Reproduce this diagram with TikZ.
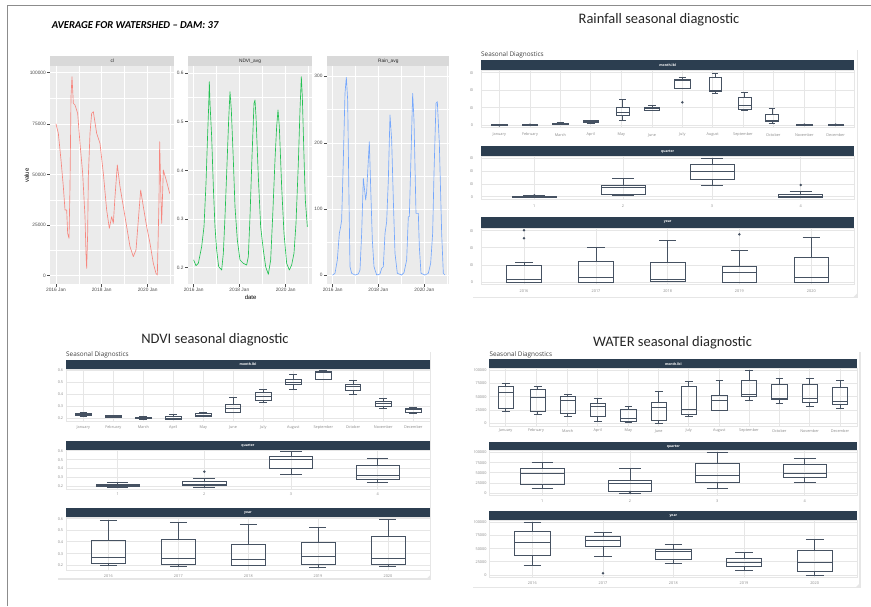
\documentclass[tikz,border=0pt]{standalone}
\usepackage{fontspec}
\setmainfont{Carlito}
\newfontfamily\osans{Open Sans}
\newfontfamily\lsans{Liberation Sans}
\definecolor{ggpanel}{HTML}{EBEBEB}
\definecolor{ggstrip}{HTML}{D9D9D9}
\definecolor{ggtext}{HTML}{4D4D4D}
\definecolor{ggred}{HTML}{F8766D}
\definecolor{gggreen}{HTML}{00BA38}
\definecolor{ggblue}{HTML}{619CFF}
\definecolor{navy}{HTML}{2C3E50}
\definecolor{boxc}{HTML}{465262}
\definecolor{pgridc}{HTML}{E6E6E6}
\definecolor{ptext}{HTML}{8A8A8A}
\definecolor{frmc}{HTML}{8C8C8C}
\tikzset{
  frm/.style={draw=frmc, line width=1.3pt},
  ggpan/.style={fill=ggpanel},
  ggstr/.style={fill=ggstrip},
  ggmaj/.style={draw=white, line width=0.7pt},
  ggmin/.style={draw=white, line width=0.35pt},
  ggtickline/.style={draw=ggtext, line width=0.4pt},
  ggtick/.style={font=\lsans\fontsize{4.8}{5}\selectfont, text=ggtext, inner sep=0pt},
  ggstriptxt/.style={font=\lsans\fontsize{4.8}{5}\selectfont, text=black!85, inner sep=0pt},
  ggaxis/.style={font=\lsans\fontsize{6}{6}\selectfont, text=black, inner sep=0pt},
  dataline/.style={line width=0.65pt, line join=round, line cap=round, draw opacity=0.85},
  pstrip/.style={fill=navy},
  pframe/.style={draw=pgridc, line width=0.6pt, fill=white},
  pgrid/.style={draw=pgridc, line width=0.5pt},
  ptick/.style={font=\osans\fontsize{3.8}{4}\selectfont, text=ptext, inner sep=0pt},
  pstriptxt/.style={font=\osans\bfseries\fontsize{3.4}{4}\selectfont, text=white, inner sep=0pt},
  psub/.style={font=\osans\fontsize{6.4}{7}\selectfont, text=black!75, inner sep=0pt, anchor=south west},
  blocktitle/.style={font=\fontsize{14.5}{15}\selectfont, text=black!85, inner sep=0pt},
  boxst/.style={draw=boxc, line width=0.8pt},
  cont/.style={draw=pgridc, line width=1.4pt},
}
% boxplot: xc, halfwidth, top, q3, median, q1, low
\newcommand\bxp[7]{%
  \draw[boxst] (#1-#2,#4) rectangle (#1+#2,#6) (#1-#2,#5) -- (#1+#2,#5)
    (#1,#3) -- (#1,#4) (#1,#6) -- (#1,#7)
    (#1-#2/2,#3) -- (#1+#2/2,#3) (#1-#2/2,#7) -- (#1+#2/2,#7);}
\newcommand\bdot[2]{\fill[boxc] (#1,#2) circle (1.4pt);}
\begin{document}
\begin{tikzpicture}[x=1pt,y=-1pt]
\useasboundingbox (0,0) rectangle (871,606);
\fill[white] (0,0) rectangle (871,606);
\draw[frm] (7.5,606) -- (7.5,5.5) -- (871,5.5);

% ================= ggplot (top left), coordinates x3 =================
\begin{scope}[x=0.33333pt,y=-0.33333pt]
\node[font=\bfseries\itshape\fontsize{10.6}{11}\selectfont, anchor=west, inner sep=0pt] (ttl) at (155,75) {AVERAGE FOR WATERSHED -- DAM: 37};
% panels
\fill[ggstr] (150,167) rectangle (523,197);
\fill[ggpan] (150,197) rectangle (523,852);
\fill[ggstr] (563,167) rectangle (936,197);
\fill[ggpan] (563,197) rectangle (936,852);
\fill[ggstr] (980,167) rectangle (1348,197);
\fill[ggpan] (980,197) rectangle (1348,852);
\node[ggstriptxt] (s1) at (337,183) {cl};
\node[ggstriptxt] (s2) at (750,183) {NDVI\_avg};
\node[ggstriptxt] (s3) at (1165,183) {Rain\_avg};
% panel 1 grid
\foreach \y in {295,448,600,751} \draw[ggmin] (150,\y) -- (523,\y);
\foreach \x in {237,374,512} \draw[ggmin] (\x,197) -- (\x,852);
\foreach \y in {218,372,524,675,827} \draw[ggmaj] (150,\y) -- (523,\y);
\foreach \x in {168,305,443} \draw[ggmaj] (\x,197) -- (\x,852);
% panel 2 grid
\foreach \y in {292,438,584,730} \draw[ggmin] (563,\y) -- (936,\y);
\foreach \x in {650,788,926} \draw[ggmin] (\x,197) -- (\x,852);
\foreach \y in {220,365,512,657,803} \draw[ggmaj] (563,\y) -- (936,\y);
\foreach \x in {581,718,857} \draw[ggmaj] (\x,197) -- (\x,852);
% panel 3 grid
\foreach \y in {329,528,727} \draw[ggmin] (980,\y) -- (1348,\y);
\foreach \x in {1067,1204,1342} \draw[ggmin] (\x,197) -- (\x,852);
\foreach \y in {229,429,628,825} \draw[ggmaj] (980,\y) -- (1348,\y);
\foreach \x in {998,1135,1273} \draw[ggmaj] (\x,197) -- (\x,852);
% ticks and labels
\foreach \y/\t in {218/100000,372/75000,524/50000,675/25000,827/0}{
  \draw[ggtickline] (142,\y) -- (150,\y);
  \node[ggtick, anchor=east] at (138,\y) {\t};}
\foreach \y/\t in {220/0.6,365/0.5,512/0.4,657/0.3,803/0.2}{
  \draw[ggtickline] (555,\y) -- (563,\y);
  \node[ggtick, anchor=east] at (551,\y) {\t};}
\foreach \y/\t in {229/300,429/200,628/100,825/0}{
  \draw[ggtickline] (972,\y) -- (980,\y);
  \node[ggtick, anchor=east] at (968,\y) {\t};}
\foreach \x/\t in {168/2016 Jan,305/2018 Jan,443/2020 Jan,581/2016 Jan,718/2018 Jan,857/2020 Jan,998/2016 Jan,1135/2018 Jan,1273/2020 Jan}{
  \draw[ggtickline] (\x,852) -- (\x,860);
  \node[ggtick, anchor=north] at (\x,864) {\t};}
\node[ggaxis, rotate=90] (yl) at (80,527) {value};
\node[ggaxis] (xl) at (752,893) {date};
% data
\draw[dataline, ggred] plot coordinates {(168,372) (175,400) (183,480) (190,560) (195,630) (200,630) (203,700) (207,715) (210,560) (213,290) (216,230) (220,310) (225,315) (233,340) (240,430) (248,520) (255,650) (258,760) (260,805) (263,700) (265,530) (270,400) (275,340) (280,335) (290,400) (300,430) (310,520) (320,630) (328,685) (335,650) (340,670) (345,590) (352,495) (360,560) (370,620) (380,680) (390,740) (400,770) (408,750) (415,660) (422,570) (430,620) (440,680) (450,730) (460,790) (468,820) (472,825) (477,600) (479,425) (483,600) (485,670) (490,510) (500,545) (509,580)};
\draw[dataline, gggreen] plot coordinates {(581,780) (588,797) (595,790) (600,765) (605,740) (612,680) (618,550) (623,400) (626,320) (628,245) (630,310) (635,410) (640,560) (645,680) (650,750) (656,800) (665,810) (670,760) (675,650) (680,520) (686,360) (690,275) (694,330) (700,480) (705,620) (712,720) (720,780) (730,790) (740,795) (745,770) (750,650) (756,470) (762,310) (765,300) (768,350) (775,530) (782,680) (790,750) (797,800) (805,823) (812,780) (818,650) (825,480) (830,380) (834,330) (838,380) (845,560) (852,700) (860,790) (868,810) (875,795) (882,760) (888,670) (895,490) (900,330) (904,230) (907,290) (912,470) (916,600) (922,680)};
\draw[dataline, ggblue] plot coordinates {(998,825) (1005,820) (1012,780) (1018,700) (1022,680) (1025,660) (1030,480) (1035,280) (1039,232) (1043,300) (1047,600) (1050,800) (1055,820) (1065,825) (1075,822) (1080,810) (1085,700) (1090,535) (1097,600) (1100,575) (1105,480) (1108,425) (1112,560) (1117,720) (1122,800) (1130,825) (1140,822) (1145,805) (1150,800) (1155,700) (1160,665) (1165,540) (1170,345) (1175,420) (1180,600) (1185,760) (1192,820) (1205,825) (1212,818) (1220,780) (1225,650) (1228,650) (1233,470) (1238,280) (1242,360) (1248,640) (1255,640) (1258,740) (1263,820) (1275,825) (1285,820) (1292,790) (1298,700) (1302,520) (1308,310) (1312,305) (1318,430) (1325,700) (1330,820) (1335,825)};
\end{scope}

% ================= Block titles =================
\node[blocktitle] (t1) at (659,20) {Rainfall seasonal diagnostic};
\node[blocktitle] (t2) at (215,340) {NDVI seasonal diagnostic};
\node[blocktitle] (t3) at (672.5,343) {WATER seasonal diagnostic};

% containers
\draw[cont] (857.3,50) -- (857.3,297.7) -- (472.7,297.7);
\fill[pgridc] (857.3,297.7) -- (853,297.7) -- (857.3,293.4) -- cycle;
\draw[cont] (430.7,352) -- (430.7,579) -- (58,579);
\fill[pgridc] (430.7,579) -- (426.4,579) -- (430.7,574.7) -- cycle;
\draw[cont] (860,352) -- (860,587.3) -- (473.3,587.3);
\fill[pgridc] (860,587.3) -- (855.7,587.3) -- (860,583) -- cycle;

% ================= Rainfall, month panel (origin 450,0) =================
\begin{scope}[shift={(450,0)},x=0.33333pt,y=-0.33333pt]
\node[psub] (rsd) at (93,176) {Seasonal Diagnostics};
\fill[pstrip] (93,180) rectangle (1213,212);
\node[pstriptxt] at (653,196) {month.lbl};
\draw[pframe] (93,212) rectangle (1213,382);
\foreach \x in {148,240,331,422,514,606,697,788,879,970,1063,1157} \draw[pgrid] (\x,212) -- (\x,382);
\foreach \y in {218,270,323,375} \draw[pgrid] (93,\y) -- (1213,\y);
\begin{scope}\clip (60,150) rectangle (1300,600);
\foreach \y/\t in {218/300,270/200,323/100,375/0} \node[ptick, anchor=east] at (70,\y) {\t};
\end{scope}
\foreach \x/\m in {148/January,240/February,331/March,422/April,514/May,606/June,697/July,788/August,879/September,970/October,1063/November,1157/December}
  \node[ptick] at (\x,405) {\m};
\bxp{148}{23}{372}{373}{375}{377}{377} \bdot{148}{376}
\bxp{240}{23}{372}{373}{374}{375}{376} \bdot{240}{374}
\bxp{331}{23}{368}{369}{371}{373}{374}
\bxp{422}{23}{361}{362}{365}{368}{369}
\bxp{518}{20}{298}{322}{337}{347}{360}
\bxp{606}{22}{316}{322}{325}{331}{332}
\bxp{697}{23}{232}{238}{240}{265}{265} \bdot{697}{307}
\bxp{796}{18}{219}{233}{270}{273}{281}
\bxp{884}{20}{276}{293}{317}{329}{330}
\bxp{966}{20}{325}{344}{360}{365}{370}
\bxp{1063}{23}{373}{374}{374}{375}{375} \bdot{1063}{374}
\bxp{1157}{23}{373}{374}{374}{375}{375} \bdot{1157}{374}
\end{scope}

% ================= Rainfall, quarter and year (origin 450,140) =================
\begin{scope}[shift={(450,140)},x=0.33333pt,y=-0.33333pt]
\fill[pstrip] (93,17) rectangle (1213,50);
\node[pstriptxt] at (653,34) {quarter};
\draw[pframe] (93,50) rectangle (1213,178);
\foreach \x in {253,519,786,1052} \draw[pgrid] (\x,50) -- (\x,178);
\foreach \y in {55,93,132,170} \draw[pgrid] (93,\y) -- (1213,\y);
\fill[pstrip] (93,230) rectangle (1213,264);
\node[pstriptxt] at (653,247) {year};
\draw[pframe] (93,264) rectangle (1213,433);
\foreach \x in {222,438,653,868,1084} \draw[pgrid] (\x,264) -- (\x,433);
\foreach \y in {272,323,375,426} \draw[pgrid] (93,\y) -- (1213,\y);
\begin{scope}\clip (60,0) rectangle (1300,600);
\foreach \y/\t in {55/300,93/200,132/100,170/0,272/300,323/200,375/100,426/0} \node[ptick, anchor=east] at (70,\y) {\t};
\end{scope}
\foreach \x/\t in {253/1,519/2,786/3,1052/4} \node[ptick] at (\x,197) {\t};
\foreach \x/\t in {222/2016,438/2017,653/2018,868/2019,1084/2020} \node[ptick] at (\x,454) {\t};
\bxp{253}{66}{167}{168}{169}{171}{171} \bdot{253}{166}
\bxp{519}{66}{115}{137}{143}{162}{167}
\bxp{786}{66}{55}{72}{93}{119}{137}
\bxp{1052}{66}{153}{162}{168}{171}{171} \bdot{1052}{135}
\bxp{222}{52}{368}{376}{417}{426}{426} \bdot{222}{271} \bdot{222}{295}
\bxp{438}{52}{322}{364}{413}{426}{426}
\bxp{653}{52}{300}{367}{417}{425}{425}
\bxp{868}{52}{330}{378}{396}{426}{426} \bdot{868}{283}
\bxp{1084}{52}{291}{352}{412}{426}{426}
\end{scope}

% ================= NDVI month (origin 40,320) =================
\begin{scope}[shift={(40,320)},x=0.33333pt,y=-0.33333pt]
\node[psub] (nsd) at (78,116) {Seasonal Diagnostics};
\fill[pstrip] (78,120) rectangle (1170,147);
\node[pstriptxt] at (624,134) {month.lbl};
\draw[pframe] (78,147) rectangle (1170,305);
\foreach \x in {130,220,310,400,490,579,670,760,850,939,1030,1120} \draw[pgrid] (\x,147) -- (\x,305);
\foreach \y in {151,187,222,258,294} \draw[pgrid] (78,\y) -- (1170,\y);
\begin{scope}\clip (52.5,100) rectangle (1300,600);
\foreach \y/\t in {151/0.6,187/0.5,222/0.4,258/0.3,294/0.2} \node[ptick, anchor=east] at (70,\y) {\t};
\end{scope}
\foreach \x/\m in {130/January,220/February,310/March,400/April,490/May,579/June,670/July,760/August,850/September,939/October,1030/November,1120/December}
  \node[ptick] at (\x,322) {\m};
\bxp{130}{23}{278}{280}{283}{286}{288}
\bxp{220}{23}{285}{287}{289}{292}{293}
\bxp{310}{23}{290}{292}{294}{296}{297}
\bxp{400}{23}{283}{289}{294}{297}{299}
\bxp{490}{23}{278}{279}{285}{290}{290}
\bxp{579}{23}{233}{254}{265}{276}{278}
\bxp{670}{23}{207}{218}{228}{240}{248}
\bxp{760}{23}{163}{177}{187}{193}{209}
\bxp{850}{23}{152}{155}{158}{178}{178}
\bxp{939}{23}{180}{193}{200}{210}{222}
\bxp{1030}{23}{236}{244}{250}{259}{265}
\bxp{1120}{23}{263}{264}{268}{276}{279}
\end{scope}

% ================= NDVI quarter and year (origin 40,430) =================
\begin{scope}[shift={(40,430)},x=0.33333pt,y=-0.33333pt]
\fill[pstrip] (78,33) rectangle (1170,60);
\node[pstriptxt] at (624,47) {quarter};
\draw[pframe] (78,60) rectangle (1170,178);
\foreach \x in {233,493,753,1013} \draw[pgrid] (\x,60) -- (\x,178);
\foreach \y in {62,89,115,142,169} \draw[pgrid] (78,\y) -- (1170,\y);
\fill[pstrip] (78,235) rectangle (1170,262);
\node[pstriptxt] at (624,249) {year};
\draw[pframe] (78,262) rectangle (1170,420);
\foreach \x in {205,415,625,834,1044} \draw[pgrid] (\x,262) -- (\x,420);
\foreach \y in {266,300,335,371,406} \draw[pgrid] (78,\y) -- (1170,\y);
\begin{scope}\clip (52.5,0) rectangle (1300,600);
\foreach \y/\t in {62/0.6,89/0.5,115/0.4,142/0.3,169/0.2,266/0.6,300/0.5,335/0.4,371/0.3,406/0.2} \node[ptick, anchor=east] at (70,\y) {\t};
\end{scope}
\foreach \x/\t in {233/1,493/2,753/3,1013/4} \node[ptick] at (\x,193) {\t};
\foreach \x/\t in {205/2016,415/2017,625/2018,834/2019,1044/2020} \node[ptick] at (\x,437) {\t};
\bxp{233}{65}{156}{162}{167}{170}{172}
\bxp{493}{65}{145}{155}{163}{167}{172} \bdot{493}{125}
\bxp{753}{65}{64}{79}{88}{114}{134}
\bxp{1013}{65}{84}{106}{135}{148}{157}
\bxp{205}{51}{270}{330}{382}{400}{407}
\bxp{415}{51}{277}{329}{386}{403}{410}
\bxp{625}{51}{284}{342}{389}{405}{406}
\bxp{834}{51}{292}{337}{378}{402}{412}
\bxp{1044}{51}{267}{318}{385}{404}{410}
\end{scope}

% ================= WATER month (origin 450,320) =================
\begin{scope}[shift={(450,320)},x=0.33333pt,y=-0.33333pt]
\node[psub] (wsd) at (118,114) {Seasonal Diagnostics};
\fill[pstrip] (118,118) rectangle (1222,145);
\node[pstriptxt] at (670,132) {month.lbl};
\draw[pframe] (118,145) rectangle (1222,318);
\foreach \x in {167,258,353,443,535,626,716,808,897,988,1079,1170} \draw[pgrid] (\x,145) -- (\x,318);
\foreach \y in {150,190,230,270,310} \draw[pgrid] (118,\y) -- (1222,\y);
\begin{scope}\clip (72,100) rectangle (1300,600);
\foreach \y/\t in {150/100000,190/75000,230/50000,270/25000,310/0} \node[ptick, anchor=east] at (110,\y) {\t};
\end{scope}
\foreach \x/\m in {167/January,258/February,353/March,443/April,535/May,626/June,716/July,808/August,897/September,988/October,1079/November,1170/December}
  \node[ptick] at (\x,333) {\m};
\bxp{167}{23}{190}{198}{218}{265}{275}
\bxp{263}{23}{200}{208}{232}{273}{284}
\bxp{353}{23}{223}{228}{240}{279}{290}
\bxp{443}{23}{236}{249}{260}{290}{305}
\bxp{535}{23}{258}{269}{295}{305}{307}
\bxp{626}{23}{214}{246}{263}{300}{310}
\bxp{716}{23}{183}{198}{269}{283}{288}
\bxp{808}{23}{180}{225}{241}{270}{272}
\bxp{897}{23}{151}{181}{222}{230}{240}
\bxp{988}{23}{176}{192}{234}{238}{251}
\bxp{1079}{23}{176}{194}{236}{246}{260}
\bxp{1170}{23}{182}{202}{244}{254}{265}
\end{scope}

% ================= WATER quarter and year (origin 450,430) =================
\begin{scope}[shift={(450,430)},x=0.33333pt,y=-0.33333pt]
\fill[pstrip] (118,35) rectangle (1222,62);
\node[pstriptxt] at (670,49) {quarter};
\draw[pframe] (118,62) rectangle (1222,197);
\foreach \x in {277,540,802,1064} \draw[pgrid] (\x,62) -- (\x,197);
\foreach \y in {67,98,128,159,190} \draw[pgrid] (118,\y) -- (1222,\y);
\fill[pstrip] (118,244) rectangle (1222,270);
\node[pstriptxt] at (670,258) {year};
\draw[pframe] (118,270) rectangle (1222,443);
\foreach \x in {247,459,670,882,1094} \draw[pgrid] (\x,270) -- (\x,443);
\foreach \y in {277,316,356,395,435} \draw[pgrid] (118,\y) -- (1222,\y);
\begin{scope}\clip (72,0) rectangle (1300,600);
\foreach \y/\t in {67/100000,98/75000,128/50000,159/25000,190/0,277/100000,316/75000,356/50000,395/25000,435/0} \node[ptick, anchor=east] at (110,\y) {\t};
\end{scope}
\foreach \x/\t in {277/1,540/2,802/3,1064/4} \node[ptick] at (\x,213) {\t};
\foreach \x/\t in {247/2016,459/2017,670/2018,882/2019,1094/2020} \node[ptick] at (\x,460) {\t};
\bxp{277}{65}{97}{115}{129}{162}{175}
\bxp{540}{65}{116}{150}{160}{184}{190} \bdot{540}{186}
\bxp{802}{65}{67}{99}{136}{158}{174}
\bxp{1064}{65}{85}{103}{129}{143}{156}
\bxp{247}{53}{278}{304}{338}{375}{406}
\bxp{459}{53}{307}{320}{331}{349}{380} \bdot{459}{430}
\bxp{670}{53}{344}{358}{365}{388}{399}
\bxp{882}{53}{368}{386}{397}{410}{421}
\bxp{1094}{53}{329}{361}{397}{423}{435}
\end{scope}
\end{tikzpicture}
\end{document}
